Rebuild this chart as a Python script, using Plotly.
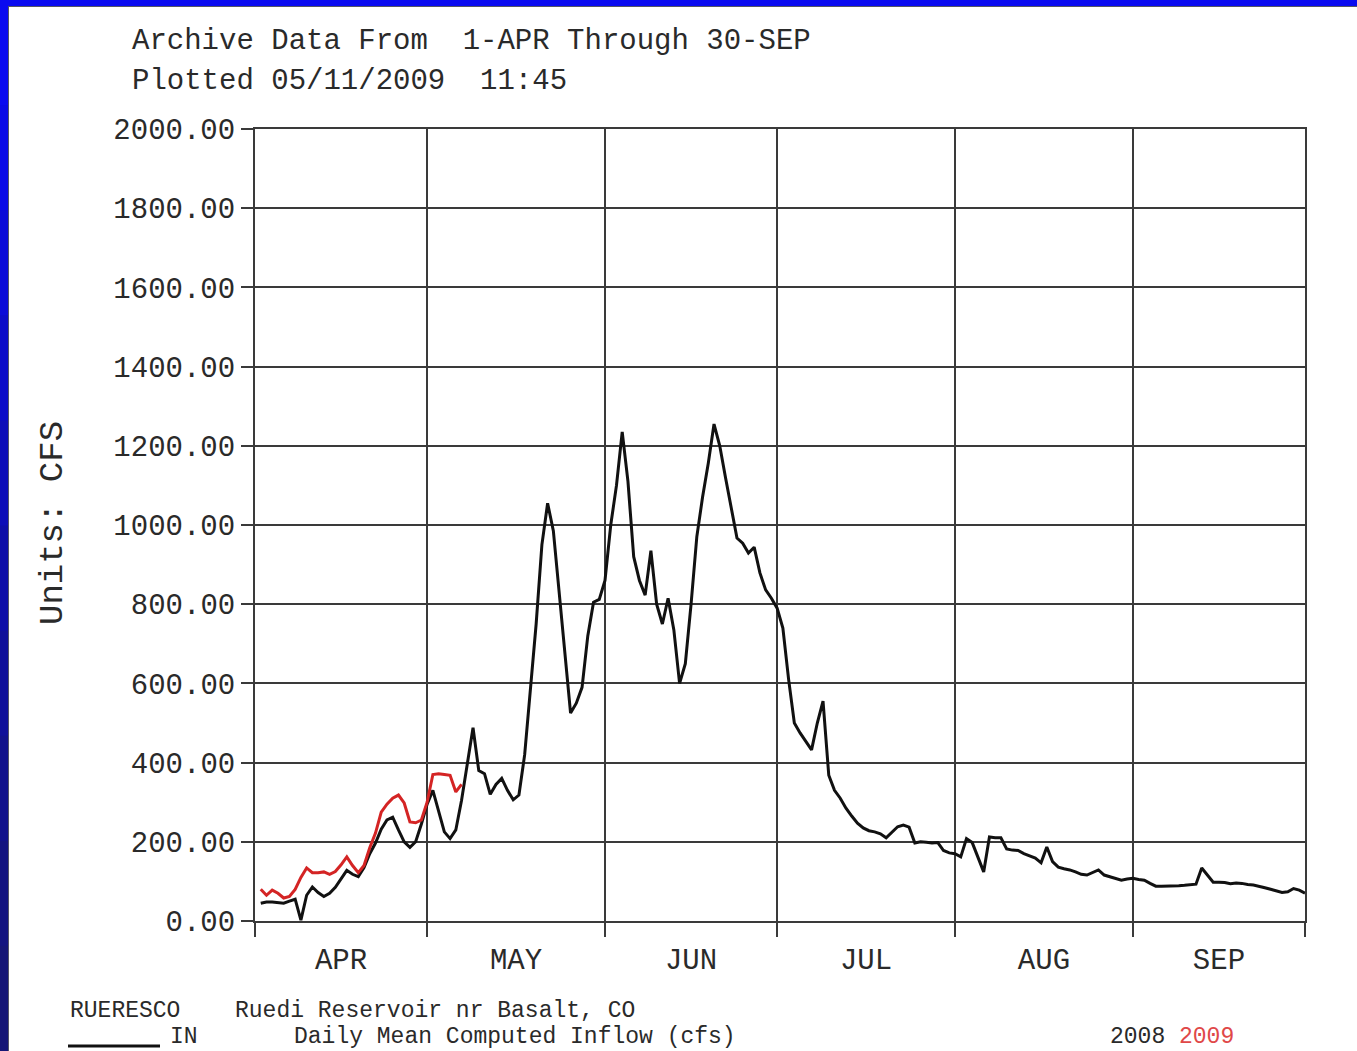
import plotly.graph_objects as go

# Daily mean computed inflow (cfs), Ruedi Reservoir, season day 1 = 1-APR
inflow_2008 = [
    45, 48, 48, 46, 45, 50, 55, 2, 65, 86,
    72, 62, 70, 85, 105, 128, 118, 112, 135, 170,
    197, 232, 255, 262, 230, 200, 186, 200, 245, 295,
    330, 280, 225, 208, 230, 305, 400, 488, 380, 372,
    320, 345, 360, 330, 306, 318, 420, 590, 750, 950,
    1055, 985, 830, 670, 525, 550, 590, 720, 805, 812,
    860, 1000, 1100, 1235, 1110, 920, 860, 823, 935, 800,
    750, 815, 735, 600, 650, 800, 970, 1070, 1156, 1255,
    1200, 1120, 1045, 967, 954, 929, 944, 879, 836, 815,
    790, 740, 610, 500, 475, 455, 432, 500, 555, 368,
    330, 310, 285, 265, 247, 235, 228, 225, 220, 210,
    225, 238, 242, 237, 197, 200, 199, 197, 198, 178,
    172, 170, 162, 208, 198, 160, 124, 212, 210, 210,
    182, 179, 178, 170, 165, 159, 147, 187, 150, 136,
    132, 129, 124, 118, 116, 122, 129, 116, 111, 106,
    103, 106, 108, 105, 103, 95, 88, 88, 88, 88,
    89, 90, 91, 93, 134, 115, 98, 98, 97, 94,
    96, 95, 92, 91, 88, 84, 80, 76, 72, 74,
    82, 78, 70,
]
inflow_2009 = [
    80, 65, 78, 70, 58, 62, 80, 110, 134, 122,
    122, 124, 118, 125, 142, 162, 140, 122, 140, 185,
    222, 275, 295, 310, 318, 298, 250, 248, 255, 300,
    370, 372, 370, 368, 326, 345,
]

month_labels = ["APR", "MAY", "JUN", "JUL", "AUG", "SEP"]
month_lengths = [30, 31, 30, 31, 31, 30]
y_ticks = list(range(0, 2001, 200))

# month boundaries (grid) and month centres (labels) in season days
month_edges = [0]
for n in month_lengths:
    month_edges.append(month_edges[-1] + n)
month_mids = [(a + b) / 2 for a, b in zip(month_edges[:-1], month_edges[1:])]

days_2008 = list(range(1, len(inflow_2008) + 1))
days_2009 = list(range(1, len(inflow_2009) + 1))

W, H = 1357, 1051
L, R, T, B = 255, 52, 129, 130
PW, PH = W - L - R, H - T - B


def px(x):
    return (x - L) / PW


def py(y):
    return (H - B - y) / PH


MONO = "Liberation Mono, Courier New, monospace"
TXT = "#2a2a2a"
GRID = "#3a3a3a"
RED = "#d42424"

fig = go.Figure()
fig.add_trace(go.Scatter(x=days_2008, y=inflow_2008, mode="lines",
                         line=dict(color="#111111", width=3), name="2008"))
fig.add_trace(go.Scatter(x=days_2009, y=inflow_2009, mode="lines",
                         line=dict(color=RED, width=3), name="2009"))

fig.update_layout(
    width=W, height=H,
    margin=dict(l=L, r=R, t=T, b=B),
    paper_bgcolor="white", plot_bgcolor="white",
    showlegend=False,
    font=dict(family=MONO, color=TXT, size=29),
)

fig.update_xaxes(
    range=[0, month_edges[-1]],
    tickmode="array", tickvals=month_mids, ticktext=month_labels,
    ticks="outside", ticklen=11, tickcolor="rgba(0,0,0,0)",
    tickfont=dict(family=MONO, size=29, color=TXT),
    showgrid=False, zeroline=False,
    showline=True, mirror=True, linecolor=GRID, linewidth=2,
    minor=dict(tickmode="array", tickvals=month_edges, showgrid=True,
               gridcolor=GRID, gridwidth=2, ticks="outside", ticklen=14,
               tickcolor=GRID, tickwidth=2),
)
fig.update_yaxes(
    range=[0, 2000],
    tickmode="array", tickvals=y_ticks, tickformat=".2f",
    ticks="outside", ticklen=12, tickwidth=2, tickcolor=GRID,
    tickfont=dict(family=MONO, size=29, color=TXT),
    showgrid=True, gridcolor=GRID, gridwidth=2, zeroline=False,
    showline=True, mirror=True, linecolor=GRID, linewidth=2,
)

# header and axis caption
fig.add_annotation(x=px(130), y=py(42), xref="paper", yref="paper",
                   text="Archive Data From  1-APR Through 30-SEP",
                   showarrow=False, xanchor="left", yanchor="middle",
                   font=dict(family=MONO, size=29, color=TXT))
fig.add_annotation(x=px(130), y=py(81), xref="paper", yref="paper",
                   text="Plotted 05/11/2009  11:45",
                   showarrow=False, xanchor="left", yanchor="middle",
                   font=dict(family=MONO, size=29, color=TXT))
fig.add_annotation(x=px(53), y=py(523), xref="paper", yref="paper",
                   text="Units: CFS", textangle=-90,
                   showarrow=False, xanchor="center", yanchor="middle",
                   font=dict(family=MONO, size=34, color=TXT))

# footer: station, parameter and years
foot = [
    (68, 1011, "RUERESCO"),
    (233, 1011, "Ruedi Reservoir nr Basalt, CO"),
    (168, 1037, "IN"),
    (292, 1037, "Daily Mean Computed Inflow (cfs)"),
    (1108, 1037, "2008 <span style='color:#e04848'>2009</span>"),
]
for x0, y0, s in foot:
    fig.add_annotation(x=px(x0), y=py(y0), xref="paper", yref="paper",
                       text=s, showarrow=False, xanchor="left",
                       yanchor="middle",
                       font=dict(family=MONO, size=23, color=TXT))
fig.add_shape(type="line", xref="paper", yref="paper",
              x0=px(68), x1=px(160), y0=py(1046), y1=py(1046),
              line=dict(color="#111111", width=3))

# blue frame along the top and left edges
fig.add_shape(type="rect", xref="paper", yref="paper",
              x0=px(0), x1=px(W), y0=py(0), y1=py(6),
              fillcolor="#0a0af0", line=dict(width=0), layer="above")
frame_cols = ["#0a0af0", "#0a0ae6", "#0b0bd8", "#0c0cc8", "#0d0db8",
              "#0e0ea8", "#10109a", "#12128c", "#141480", "#161676"]
seg = H / len(frame_cols)
for i, c in enumerate(frame_cols):
    fig.add_shape(type="rect", xref="paper", yref="paper",
                  x0=px(0), x1=px(8), y0=py(i * seg), y1=py((i + 1) * seg + 1),
                  fillcolor=c, line=dict(width=0), layer="above")
fig.add_shape(type="line", xref="paper", yref="paper",
              x0=px(8.5), x1=px(8.5), y0=py(6), y1=py(H),
              line=dict(color="#555566", width=1), layer="above")
fig.add_shape(type="line", xref="paper", yref="paper",
              x0=px(8), x1=px(W), y0=py(6.5), y1=py(6.5),
              line=dict(color="#555566", width=1), layer="above")

fig.write_html("out.html", config={"displayModeBar": False})
